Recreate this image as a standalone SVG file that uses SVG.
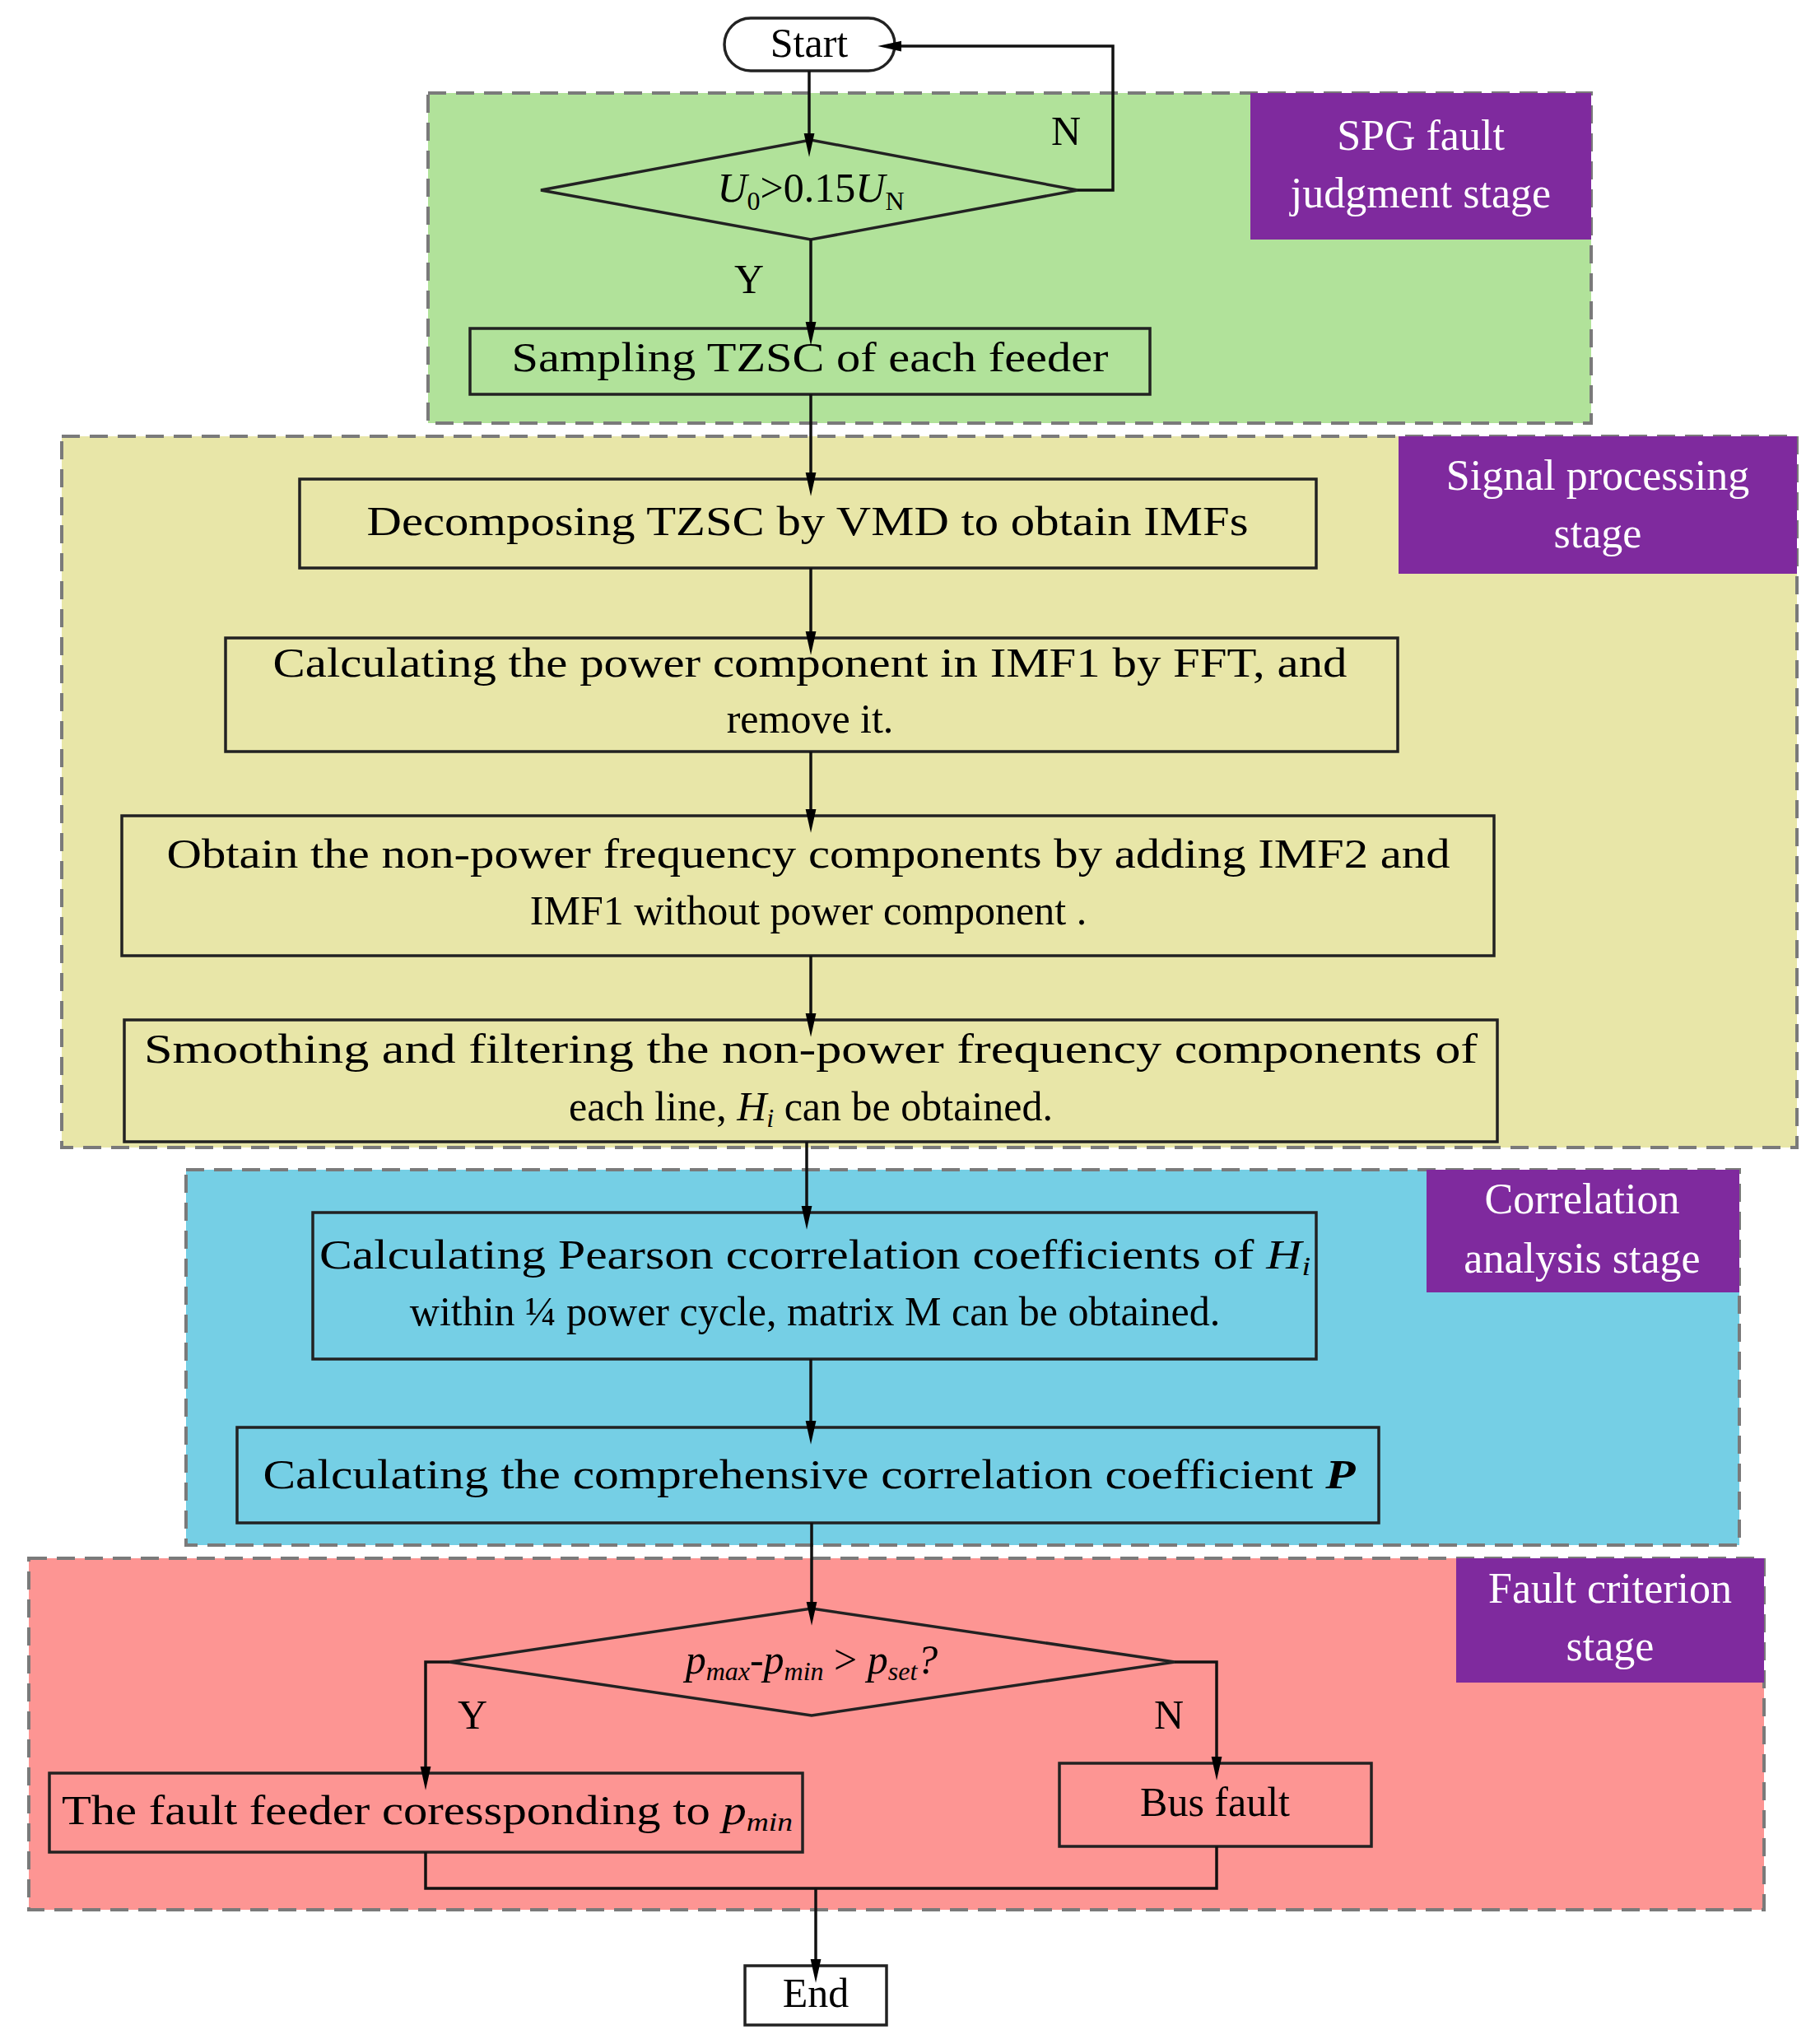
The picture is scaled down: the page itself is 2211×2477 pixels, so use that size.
<svg xmlns="http://www.w3.org/2000/svg" width="2211" height="2477" viewBox="0 0 2211 2477">
<style>
text{font-family:"Liberation Serif","Times New Roman",serif;font-size:50px;fill:#000;text-anchor:middle}
.lbl{fill:#fff;font-size:52px}
.stage{stroke:#7a7a7a;stroke-width:4;stroke-dasharray:22 12}
.box{fill:none;stroke:#222;stroke-width:3.5}
.c{fill:none;stroke:#111;stroke-width:3.5}
.it{font-style:italic}
</style>
<defs>
<marker id="ah" viewBox="0 0 10 10" refX="10" refY="5" markerWidth="8" markerHeight="10" markerUnits="userSpaceOnUse" orient="auto" style="overflow:visible">
<path d="M0,0 L10,5 L0,10 z" fill="#000" transform="scale(3.6,1.6) translate(0,-1.9)"/>
</marker>
</defs>
<rect width="2211" height="2477" fill="#fff"/>
<g id="stage-spg"><rect class="stage" x="520" y="113" width="1413" height="401" fill="#b1e29a"/><rect x="1519" y="113" width="414" height="178" fill="#7f2a9e"/><text class="lbl" x="1726" y="182">SPG fault</text><text class="lbl" x="1726" y="252">judgment stage</text></g>
<g id="stage-signal"><rect class="stage" x="75" y="530" width="2108" height="864" fill="#e8e6a8"/><rect x="1699" y="530" width="484" height="167" fill="#7f2a9e"/><text class="lbl" x="1941" y="595">Signal processing</text><text class="lbl" x="1941" y="665">stage</text></g>
<g id="stage-corr"><rect class="stage" x="226" y="1421" width="1887" height="456" fill="#75cfe5"/><rect x="1733" y="1421" width="380" height="149" fill="#7f2a9e"/><text class="lbl" x="1922" y="1474">Correlation</text><text class="lbl" x="1922" y="1546">analysis stage</text></g>
<g id="stage-fault"><rect class="stage" x="35" y="1893" width="2108" height="427" fill="#fd9593"/><rect x="1769" y="1893" width="374" height="151" fill="#7f2a9e"/><text class="lbl" x="1956" y="1947">Fault criterion</text><text class="lbl" x="1956" y="2017">stage</text></g>
<g id="start"><rect class="box" x="880" y="22" width="207" height="64" rx="32"/><text x="983" y="69">Start</text></g>
<g id="d1"><path class="box" d="M657,231 L985,170 L1309,231 L985,291 Z"/><text x="985" y="245"><tspan class="it">U</tspan><tspan font-size="32" dy="10">0</tspan><tspan dy="-10">&gt;0.15</tspan><tspan class="it">U</tspan><tspan font-size="32" dy="10">N</tspan></text></g>
<g id="sampling"><rect class="box" x="571" y="399" width="826" height="80"/><text x="984" y="451" textLength="725" lengthAdjust="spacingAndGlyphs">Sampling TZSC of each feeder</text></g>
<g id="decomp"><rect class="box" x="364" y="582" width="1235" height="108"/><text x="981" y="650" textLength="1071" lengthAdjust="spacingAndGlyphs">Decomposing TZSC by VMD to obtain IMFs</text></g>
<g id="calc"><rect class="box" x="274" y="775" width="1424" height="138"/><text x="984" y="822" textLength="1305" lengthAdjust="spacingAndGlyphs">Calculating the power component in IMF1 by FFT, and</text><text x="984" y="890">remove it.</text></g>
<g id="obtain"><rect class="box" x="148" y="991" width="1667" height="170"/><text x="982" y="1054" textLength="1559" lengthAdjust="spacingAndGlyphs">Obtain the non-power frequency components by adding IMF2 and</text><text x="982" y="1123">IMF1 without power component .</text></g>
<g id="smooth"><rect class="box" x="151" y="1239" width="1668" height="148"/><text x="985" y="1291" textLength="1620" lengthAdjust="spacingAndGlyphs">Smoothing and filtering the non-power frequency components of</text><text x="985" y="1361">each line, <tspan class="it">H</tspan><tspan class="it" font-size="32" dy="8">i</tspan><tspan dy="-8"> can be obtained.</tspan></text></g>
<g id="pearson"><rect class="box" x="380" y="1473" width="1219" height="178"/><text x="990" y="1541" textLength="1204" lengthAdjust="spacingAndGlyphs">Calculating Pearson ccorrelation coefficients of <tspan class="it">H</tspan><tspan class="it" font-size="32" dy="8">i</tspan></text><text x="990" y="1610">within ¼ power cycle, matrix M can be obtained.</text></g>
<g id="pbox"><rect class="box" x="288" y="1734" width="1387" height="116"/><text x="983" y="1808" textLength="1327" lengthAdjust="spacingAndGlyphs">Calculating  the comprehensive correlation coefficient <tspan font-weight="bold" font-style="italic">P</tspan></text></g>
<g id="d2"><path class="box" d="M546,2019 L986,1954 L1427,2019 L986,2084 Z"/><text x="986" y="2033"><tspan class="it">p</tspan><tspan class="it" font-size="32" dy="8">max</tspan><tspan class="it" dy="-8">-p</tspan><tspan class="it" font-size="32" dy="8">min</tspan><tspan dy="-8"> &gt; </tspan><tspan class="it">p</tspan><tspan class="it" font-size="32" dy="8">set</tspan><tspan class="it" dy="-8">?</tspan></text></g>
<g id="feeder"><rect class="box" x="60" y="2154" width="915" height="96"/><text x="519" y="2216" textLength="888" lengthAdjust="spacingAndGlyphs">The fault feeder coressponding to <tspan class="it">p</tspan><tspan class="it" font-size="32" dy="8">min</tspan></text></g>
<g id="bus"><rect class="box" x="1287" y="2142" width="379" height="101"/><text x="1476" y="2206">Bus fault</text></g>
<g id="end"><rect class="box" x="905" y="2388" width="172" height="72"/><text x="991" y="2438">End</text></g>
<g id="labels"><text x="1295" y="176">N</text><text x="910" y="356">Y</text><text x="574" y="2100">Y</text><text x="1420" y="2100">N</text></g>
<g id="connectors">
<path class="c" d="M983,86 V170" marker-end="url(#ah)"/>
<path class="c" d="M1309,231 H1352 V56 H1087" marker-end="url(#ah)"/>
<path class="c" d="M985,291 V399" marker-end="url(#ah)"/>
<path class="c" d="M985,479 V582" marker-end="url(#ah)"/>
<path class="c" d="M985,690 V775" marker-end="url(#ah)"/>
<path class="c" d="M985,913 V991" marker-end="url(#ah)"/>
<path class="c" d="M985,1161 V1239" marker-end="url(#ah)"/>
<path class="c" d="M980,1387 V1473" marker-end="url(#ah)"/>
<path class="c" d="M985,1651 V1734" marker-end="url(#ah)"/>
<path class="c" d="M986,1850 V1954" marker-end="url(#ah)"/>
<path class="c" d="M546,2019 H517 V2154" marker-end="url(#ah)"/>
<path class="c" d="M1427,2019 H1478 V2142" marker-end="url(#ah)"/>
<path class="c" d="M517,2250 V2294 H1478 V2243"/>
<path class="c" d="M991,2294 V2388" marker-end="url(#ah)"/>
</g>
</svg>
